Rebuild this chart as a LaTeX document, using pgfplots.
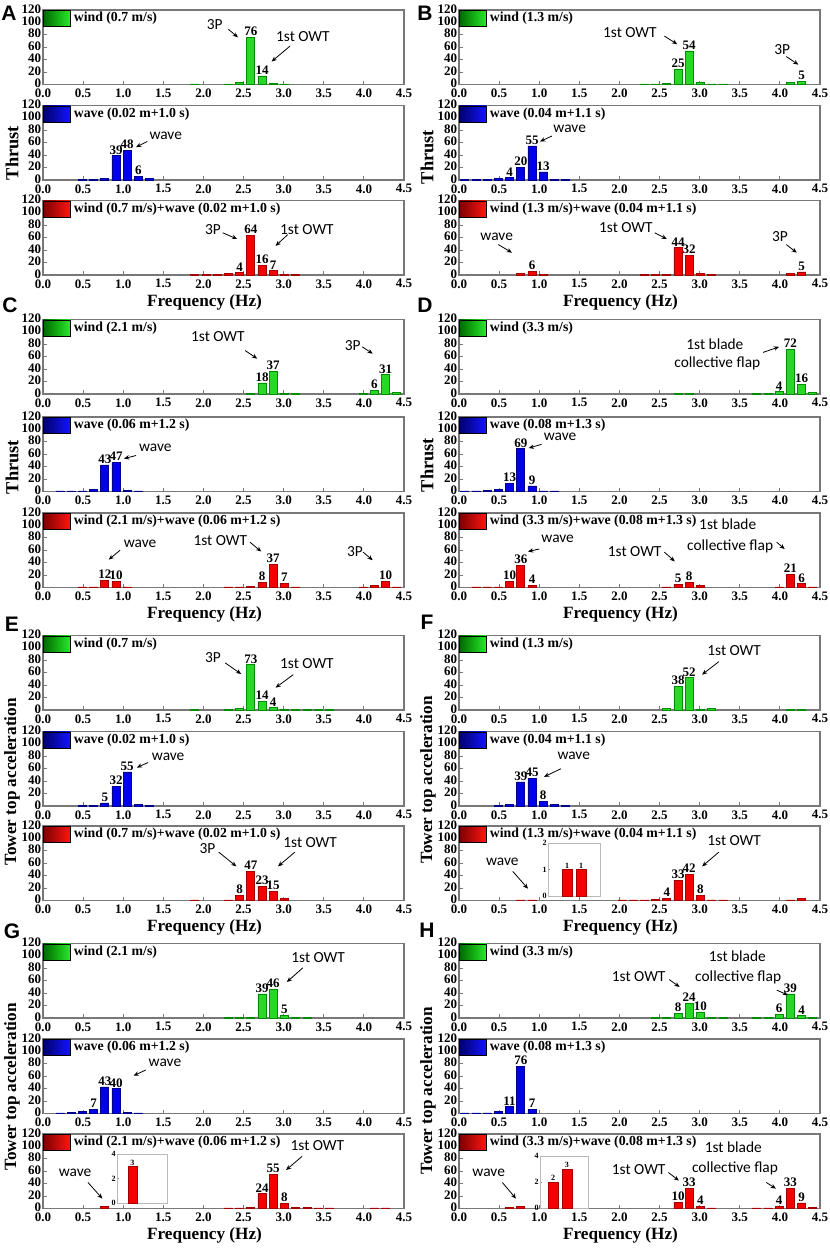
\documentclass[border=0pt]{standalone}
\usepackage{fontspec}
\setmainfont{Liberation Serif}
\newfontfamily\sansbf{Liberation Sans}
\newfontfamily\carlito{Carlito}
\usepackage{pgfplots}
\pgfplotsset{compat=1.18}
\usetikzlibrary{arrows.meta}
\definecolor{gF}{RGB}{40,215,40}
\definecolor{gE}{RGB}{0,140,0}
\definecolor{gD}{RGB}{0,105,0}
\definecolor{gL}{RGB}{40,235,40}
\definecolor{bF}{RGB}{0,0,235}
\definecolor{bE}{RGB}{0,0,140}
\definecolor{bD}{RGB}{0,0,110}
\definecolor{bL}{RGB}{20,20,255}
\definecolor{rF}{RGB}{245,0,0}
\definecolor{rE}{RGB}{165,0,0}
\definecolor{rD}{RGB}{125,0,0}
\definecolor{rL}{RGB}{255,20,20}
\definecolor{frm}{RGB}{120,120,120}
\newcommand\tickfont{\fontsize{6.5}{7}\selectfont\bfseries}
\newcommand\legfont{\fontsize{6.9}{7.5}\selectfont\bfseries}
\newcommand\annfont{\carlito\fontsize{7.7}{8}\selectfont}
\newcommand\labfont{\fontsize{8.6}{9}\selectfont\bfseries}
\newcommand\thrfont{\fontsize{9.2}{10}\selectfont\bfseries}
\newcommand\letfont{\sansbf\fontsize{10.5}{11}\selectfont\bfseries}
\newcommand\insfont{\fontsize{4}{4.5}\selectfont\bfseries}
\pgfplotsset{
  base/.style={
    scale only axis, width=180.5pt, height=37.25pt, anchor=south west,
    xmin=0, xmax=4.5, ymin=0, ymax=120,
    xtick={0,0.5,1,1.5,2,2.5,3,3.5,4,4.5}, ytick={0,20,40,60,80,100,120},
    tick pos=left, tick align=inside, major tick length=2pt,
    axis line style={draw=frm, line width=0.6pt},
    every tick/.style={frm, line width=0.4pt},
    /pgf/number format/assume math mode=true,
    ticklabel style={font=\tickfont},
    xticklabel style={inner sep=0.3pt, yshift=-1.7pt, /pgf/number format/.cd, fixed, fixed zerofill, precision=1},
    yticklabel style={inner sep=0.8pt, yshift=0.6pt},
    clip=false,
    every node near coord/.append style={font=\tickfont, inner sep=0.6pt, text=black},
    legend style={at={(0,1)}, anchor=north west, draw=none, fill=none,
      inner sep=0pt, outer sep=0pt, font=\legfont, nodes={inner sep=0.5pt}, column sep=1pt},
    legend cell align=left,
  },
  flab/.style={xlabel={Frequency (Hz)}, xlabel style={font=\labfont, xshift=-9.5pt, yshift=-1.5pt, inner sep=1pt}},
  gsw/.style={legend image code/.code={\shade[left color=gD,right color=gL] (0pt,-4pt) rectangle (13.5pt,4pt);}},
  bsw/.style={legend image code/.code={\shade[left color=bD,right color=bL] (0pt,-4pt) rectangle (13.5pt,4pt);}},
  rsw/.style={legend image code/.code={\shade[left color=rD,right color=rL] (0pt,-4pt) rectangle (13.5pt,4pt);}},
  gbar/.style={ybar, bar width=0.1, bar shift=0pt, fill=gF, draw=gE, line width=0.3pt, forget plot},
  bbar/.style={ybar, bar width=0.1, bar shift=0pt, fill=bF, draw=bE, line width=0.3pt, forget plot},
  rbar/.style={ybar, bar width=0.1, bar shift=0pt, fill=rF, draw=rE, line width=0.3pt, forget plot},
  lab/.style={nodes near coords, nodes near coords align={vertical}},
  inset/.style={scale only axis, anchor=south west, xtick=\empty, ymin=0,
    axis line style={draw=gray!55, line width=0.5pt}, tick pos=left, tick align=inside,
    major tick length=1pt, every tick/.style={gray}, ticklabel style={font=\insfont},
    yticklabel style={inner sep=0.5pt}, axis background/.style={fill=white}, clip=false,
    /pgf/number format/assume math mode=true,
    every node near coord/.append style={font=\insfont, inner sep=0.4pt, text=black}},
}
\tikzset{ann/.style={font=\annfont, inner sep=0pt},
  arr/.style={-{Stealth[length=2.6pt,width=2.2pt]}, line width=0.4pt}}
\begin{document}
\begin{tikzpicture}
\path[use as bounding box] (0pt,0pt) rectangle (415pt,-625pt);
% ================= A =================
\begin{axis}[base, at={(21.5pt,-42.25pt)}]
\addlegendimage{gsw}\addlegendentry{wind (0.7 m/s)}
\addplot[gbar] coordinates {(1.89,1)(2.31,1)(2.45,3)(2.87,2)(3.01,1)};
\addplot[gbar,lab] coordinates {(2.59,76)(2.73,14)};
\node[ann] at (axis cs:2.14,97){3P};
\draw[arr] (axis cs:2.31,89)--(axis cs:2.43,76);
\node[ann] at (axis cs:3.24,78){1st OWT};
\draw[arr] (axis cs:3.08,62)--(axis cs:2.85,37);
\end{axis}
\begin{axis}[base, at={(21.5pt,-90pt)}]
\addlegendimage{bsw}\addlegendentry{wave (0.02 m+1.0 s)}
\addplot[bbar] coordinates {(0.49,1)(0.63,1)(0.77,2)(1.33,3)};
\addplot[bbar,lab] coordinates {(0.91,39)(1.05,48)(1.19,6)};
\node[ann] at (axis cs:1.53,71){wave};
\draw[arr] (axis cs:1.30,62)--(axis cs:1.16,53);
\end{axis}
\begin{axis}[base, flab, at={(21.5pt,-137.5pt)}]
\addlegendimage{rsw}\addlegendentry{wind (0.7 m/s)+wave (0.02 m+1.0 s)}
\addplot[rbar] coordinates {(1.89,1)(2.03,1)(2.17,1)(2.31,2)(3.01,1)(3.15,1)};
\addplot[rbar,lab] coordinates {(2.45,4)(2.59,64)(2.73,16)(2.87,7)};
\node[ann] at (axis cs:2.12,73){3P};
\draw[arr] (axis cs:2.24,68)--(axis cs:2.42,58);
\node[ann] at (axis cs:3.29,73){1st OWT};
\draw[arr] (axis cs:3.05,65)--(axis cs:2.90,47);
\end{axis}
% ================= B =================
\begin{axis}[base, at={(229.5pt,-42.25pt)}]
\addlegendimage{gsw}\addlegendentry{wind (1.3 m/s)}
\addplot[gbar] coordinates {(2.31,1)(2.45,1)(2.59,2)(3.01,3)(3.15,1)(3.29,1)(4.13,3)};
\addplot[gbar,lab] coordinates {(2.73,25)(2.87,54)(4.27,5)};
\node[ann] at (axis cs:2.13,84){1st OWT};
\draw[arr] (axis cs:2.56,78)--(axis cs:2.72,65);
\node[ann] at (axis cs:4.03,57){3P};
\draw[arr] (axis cs:4.08,45)--(axis cs:4.23,32);
\end{axis}
\begin{axis}[base, at={(229.5pt,-90pt)}]
\addlegendimage{bsw}\addlegendentry{wave (0.04 m+1.1 s)}
\addplot[bbar] coordinates {(0.07,1)(0.21,1)(0.35,1)(0.49,2)(1.19,1)(1.33,1)};
\addplot[bbar,lab] coordinates {(0.63,4)(0.77,20)(0.91,55)(1.05,13)};
\node[ann] at (axis cs:1.38,83){wave};
\draw[arr] (axis cs:1.16,71)--(axis cs:1.01,62);
\end{axis}
\begin{axis}[base, flab, at={(229.5pt,-137.5pt)}]
\addlegendimage{rsw}\addlegendentry{wind (1.3 m/s)+wave (0.04 m+1.1 s)}
\addplot[rbar] coordinates {(0.77,3)(1.05,1)(2.31,1)(2.45,1)(2.59,1)(3.01,2)(3.15,1)(4.13,2)};
\addplot[rbar,lab] coordinates {(0.91,6)(2.73,44)(2.87,32)(4.27,5)};
\node[ann] at (axis cs:0.47,62){wave};
\draw[arr] (axis cs:0.49,49)--(axis cs:0.66,36);
\node[ann] at (axis cs:2.08,76){1st OWT};
\draw[arr] (axis cs:2.44,68)--(axis cs:2.59,58);
\node[ann] at (axis cs:4.0,62){3P};
\draw[arr] (axis cs:4.08,49)--(axis cs:4.21,36);
\end{axis}
% ================= C =================
\begin{axis}[base, at={(21.5pt,-197pt)}]
\addlegendimage{gsw}\addlegendentry{wind (2.1 m/s)}
\addplot[gbar] coordinates {(2.59,1)(3.01,1)(3.15,1)(3.99,1)(4.41,2)};
\addplot[gbar,lab] coordinates {(2.73,18)(2.87,37)(4.13,6)(4.27,31)};
\node[ann] at (axis cs:2.18,92){1st OWT};
\draw[arr] (axis cs:2.52,70)--(axis cs:2.67,57);
\node[ann] at (axis cs:3.86,78){3P};
\draw[arr] (axis cs:3.98,76)--(axis cs:4.11,65);
\end{axis}
\begin{axis}[base, at={(21.5pt,-245.75pt)}]
\addlegendimage{bsw}\addlegendentry{wave (0.06 m+1.2 s)}
\addplot[bbar] coordinates {(0.21,1)(0.35,1)(0.49,1)(0.63,3)(1.05,2)(1.19,1)};
\addplot[bbar,lab] coordinates {(0.77,43)(0.91,47)};
\node[ann] at (axis cs:1.40,71){wave};
\draw[arr] (axis cs:1.16,58)--(axis cs:1.01,53);
\end{axis}
\begin{axis}[base, flab, at={(21.5pt,-293.75pt)}]
\addlegendimage{rsw}\addlegendentry{wind (2.1 m/s)+wave (0.06 m+1.2 s)}
\addplot[rbar] coordinates {(0.49,1)(0.63,1)(1.05,1)(2.31,1)(2.45,1)(2.59,2)(3.15,1)(3.99,1)(4.13,3)(4.41,1)};
\addplot[rbar,lab] coordinates {(0.77,12)(0.91,10)(2.73,8)(2.87,37)(3.01,7)(4.27,10)};
\node[ann] at (axis cs:1.21,70){wave};
\draw[arr] (axis cs:0.96,60)--(axis cs:0.82,45);
\node[ann] at (axis cs:2.21,76){1st OWT};
\draw[arr] (axis cs:2.58,73)--(axis cs:2.72,58);
\node[ann] at (axis cs:3.89,58){3P};
\draw[arr] (axis cs:3.99,57)--(axis cs:4.11,44);
\end{axis}
% ================= D =================
\begin{axis}[base, at={(229.5pt,-197pt)}]
\addlegendimage{gsw}\addlegendentry{wind (3.3 m/s)}
\addplot[gbar] coordinates {(2.73,1)(2.87,1)(3.71,1)(3.85,1)(4.41,2)};
\addplot[gbar,lab] coordinates {(3.99,4)(4.13,72)(4.27,16)};
\node[ann] at (axis cs:3.19,81){1st blade};
\node[ann] at (axis cs:3.22,49){collective flap};
\draw[arr] (axis cs:3.79,67)--(axis cs:3.99,76);
\end{axis}
\begin{axis}[base, at={(229.5pt,-245.75pt)}]
\addlegendimage{bsw}\addlegendentry{wave (0.08 m+1.3 s)}
\addplot[bbar] coordinates {(0.07,1)(0.21,1)(0.35,2)(0.49,3)(1.05,1)(1.19,1)};
\addplot[bbar,lab] coordinates {(0.63,13)(0.77,69)(0.91,9)};
\node[ann] at (axis cs:1.26,88){wave};
\draw[arr] (axis cs:1.03,76)--(axis cs:0.87,70);
\end{axis}
\begin{axis}[base, flab, at={(229.5pt,-293.75pt)}]
\addlegendimage{rsw}\addlegendentry{wind (3.3 m/s)+wave (0.08 m+1.3 s)}
\addplot[rbar] coordinates {(0.21,1)(0.35,1)(0.49,1)(2.59,1)(3.01,3)(3.99,1)(4.41,1)};
\addplot[rbar,lab] coordinates {(0.63,10)(0.77,36)(0.91,4)(2.73,5)(2.87,8)(4.13,21)(4.27,6)};
\node[ann] at (axis cs:1.23,78){wave};
\draw[arr] (axis cs:1.0,62)--(axis cs:0.86,58);
\node[ann] at (axis cs:2.19,58){1st OWT};
\draw[arr] (axis cs:2.56,57)--(axis cs:2.69,42);
\node[ann] at (axis cs:3.35,102){1st blade};
\node[ann] at (axis cs:3.38,67){collective flap};
\draw[arr] (axis cs:3.96,73)--(axis cs:4.06,62);
\end{axis}
% ================= E =================
\begin{axis}[base, at={(21.5pt,-355pt)}]
\addlegendimage{gsw}\addlegendentry{wind (0.7 m/s)}
\addplot[gbar] coordinates {(1.89,1)(2.31,1)(2.45,2)(3.01,1)(3.15,1)(3.29,1)(3.43,1)(3.57,1)};
\addplot[gbar,lab] coordinates {(2.59,73)(2.73,14)(2.87,4)};
\node[ann] at (axis cs:2.12,84){3P};
\draw[arr] (axis cs:2.27,76)--(axis cs:2.47,58);
\node[ann] at (axis cs:3.29,75){1st OWT};
\draw[arr] (axis cs:3.12,57)--(axis cs:2.90,36);
\end{axis}
\begin{axis}[base, at={(21.5pt,-403pt)}]
\addlegendimage{bsw}\addlegendentry{wave (0.02 m+1.0 s)}
\addplot[bbar] coordinates {(0.49,1)(0.63,1)(1.19,2)(1.33,1)};
\addplot[bbar,lab] coordinates {(0.77,5)(0.91,32)(1.05,55)};
\node[ann] at (axis cs:1.56,80){wave};
\draw[arr] (axis cs:1.31,70)--(axis cs:1.17,62);
\end{axis}
\begin{axis}[base, flab, at={(21.5pt,-450.25pt)}]
\addlegendimage{rsw}\addlegendentry{wind (0.7 m/s)+wave (0.02 m+1.0 s)}
\addplot[rbar] coordinates {(1.89,1)(2.31,1)(3.01,3)};
\addplot[rbar,lab] coordinates {(2.45,8)(2.59,47)(2.73,23)(2.87,15)};
\node[ann] at (axis cs:2.05,83){3P};
\draw[arr] (axis cs:2.19,78)--(axis cs:2.41,55);
\node[ann] at (axis cs:3.33,94){1st OWT};
\draw[arr] (axis cs:3.14,78)--(axis cs:2.93,55);
\end{axis}
% ================= F =================
\begin{axis}[base, at={(229.5pt,-355pt)}]
\addlegendimage{gsw}\addlegendentry{wind (1.3 m/s)}
\addplot[gbar] coordinates {(2.59,2)(3.01,1)(3.15,3)(4.13,1)(4.27,1)};
\addplot[gbar,lab] coordinates {(2.73,38)(2.87,52)};
\node[ann] at (axis cs:3.43,96){1st OWT};
\draw[arr] (axis cs:3.24,78)--(axis cs:3.03,57);
\end{axis}
\begin{axis}[base, at={(229.5pt,-403pt)}]
\addlegendimage{bsw}\addlegendentry{wave (0.04 m+1.1 s)}
\addplot[bbar] coordinates {(0.49,1)(0.63,2)(1.19,2)(1.33,1)};
\addplot[bbar,lab] coordinates {(0.77,39)(0.91,45)(1.05,8)};
\node[ann] at (axis cs:1.43,81){wave};
\draw[arr] (axis cs:1.27,60)--(axis cs:1.06,47);
\end{axis}
\begin{axis}[base, flab, at={(229.5pt,-450.25pt)}]
\addlegendimage{rsw}\addlegendentry{wind (1.3 m/s)+wave (0.04 m+1.1 s)}
\addplot[rbar] coordinates {(0.77,1)(0.91,1)(2.03,1)(2.17,1)(2.31,1)(2.45,2)(3.15,1)(3.29,1)(4.13,1)(4.27,3)};
\addplot[rbar,lab] coordinates {(2.59,4)(2.73,33)(2.87,42)(3.01,8)};
\node[ann] at (axis cs:0.54,62){wave};
\draw[arr] (axis cs:0.67,47)--(axis cs:0.86,19);
\node[ann] at (axis cs:3.43,96){1st OWT};
\draw[arr] (axis cs:3.24,78)--(axis cs:3.03,55);
\end{axis}
\begin{axis}[inset, at={(274pt,-448pt)}, width=26pt, height=26.5pt, xmin=0.58, xmax=1.10, ymax=2, ytick={0,1,2}]
\addplot[rbar,lab] coordinates {(0.77,1)(0.91,1)};
\end{axis}
% ================= G =================
\begin{axis}[base, at={(21.5pt,-509pt)}]
\addlegendimage{gsw}\addlegendentry{wind (2.1 m/s)}
\addplot[gbar] coordinates {(2.31,1)(2.45,1)(2.59,1)(3.15,1)(3.29,1)};
\addplot[gbar,lab] coordinates {(2.73,39)(2.87,46)(3.01,5)};
\node[ann] at (axis cs:3.43,97){1st OWT};
\draw[arr] (axis cs:3.24,81)--(axis cs:3.04,58);
\end{axis}
\begin{axis}[base, at={(21.5pt,-556.75pt)}]
\addlegendimage{bsw}\addlegendentry{wave (0.06 m+1.2 s)}
\addplot[bbar] coordinates {(0.21,1)(0.35,2)(0.49,3)(1.05,2)(1.19,1)};
\addplot[bbar,lab] coordinates {(0.63,7)(0.77,43)(0.91,40)};
\node[ann] at (axis cs:1.52,82){wave};
\draw[arr] (axis cs:1.28,70)--(axis cs:1.13,61);
\end{axis}
\begin{axis}[base, flab, at={(21.5pt,-604.25pt)}]
\addlegendimage{rsw}\addlegendentry{wind (2.1 m/s)+wave (0.06 m+1.2 s)}
\addplot[rbar] coordinates {(0.77,3)(2.31,1)(2.45,1)(2.59,2)(3.15,2)(3.29,2)(3.43,1)(3.57,1)(4.13,1)(4.27,1)};
\addplot[rbar,lab] coordinates {(2.73,24)(2.87,55)(3.01,8)};
\node[ann] at (axis cs:0.40,58){wave};
\draw[arr] (axis cs:0.56,42)--(axis cs:0.74,16);
\node[ann] at (axis cs:3.42,102){1st OWT};
\draw[arr] (axis cs:3.23,84)--(axis cs:3.03,62);
\end{axis}
\begin{axis}[inset, at={(58.5pt,-601.5pt)}, width=25pt, height=24.5pt, xmin=0.60, xmax=1.15, ymax=4, ytick={0,2,4}]
\addplot[rbar,lab] coordinates {(0.77,3)};
\end{axis}
% ================= H =================
\begin{axis}[base, at={(229.5pt,-509pt)}]
\addlegendimage{gsw}\addlegendentry{wind (3.3 m/s)}
\addplot[gbar] coordinates {(2.45,1)(2.59,1)(3.15,1)(3.29,1)(3.71,1)(3.85,1)(4.41,1)};
\addplot[gbar,lab] coordinates {(2.73,8)(2.87,24)(3.01,10)(3.99,6)(4.13,39)(4.27,4)};
\node[ann] at (axis cs:3.47,99){1st blade};
\node[ann] at (axis cs:3.48,65){collective flap};
\node[ann] at (axis cs:2.24,66){1st OWT};
\draw[arr] (axis cs:2.62,62)--(axis cs:2.75,50);
\draw[arr] (axis cs:3.96,45)--(axis cs:4.10,37);
\end{axis}
\begin{axis}[base, at={(229.5pt,-556.75pt)}]
\addlegendimage{bsw}\addlegendentry{wave (0.08 m+1.3 s)}
\addplot[bbar] coordinates {(0.07,1)(0.21,1)(0.35,1)(0.49,3)};
\addplot[bbar,lab] coordinates {(0.63,11)(0.77,76)(0.91,7)};
\end{axis}
\begin{axis}[base, flab, at={(229.5pt,-604.25pt)}]
\addlegendimage{rsw}\addlegendentry{wind (3.3 m/s)+wave (0.08 m+1.3 s)}
\addplot[rbar] coordinates {(0.63,2)(0.77,3)(3.15,1)(3.71,1)(3.85,1)(4.41,2)};
\addplot[rbar,lab] coordinates {(2.73,10)(2.87,33)(3.01,4)(3.99,4)(4.13,33)(4.27,9)};
\node[ann] at (axis cs:0.37,58){wave};
\draw[arr] (axis cs:0.54,42)--(axis cs:0.71,16);
\node[ann] at (axis cs:2.24,63){1st OWT};
\draw[arr] (axis cs:2.61,58)--(axis cs:2.74,45);
\node[ann] at (axis cs:3.42,99){1st blade};
\node[ann] at (axis cs:3.44,65){collective flap};
\draw[arr] (axis cs:3.83,42)--(axis cs:3.95,32);
\end{axis}
\begin{axis}[inset, at={(270pt,-604pt)}, width=24.5pt, height=26pt, xmin=0.495, xmax=0.995, ymax=4, ytick={0,2,4}]
\addplot[rbar,lab] coordinates {(0.63,2)(0.77,3)};
\end{axis}
% ================= labels =================
\node[rotate=90, font=\thrfont] at (6pt,-76.5pt) {Thrust};
\node[rotate=90, font=\thrfont] at (213.5pt,-78.5pt) {Thrust};
\node[rotate=90, font=\thrfont] at (6pt,-233.5pt) {Thrust};
\node[rotate=90, font=\thrfont] at (213.5pt,-232.5pt) {Thrust};
\node[rotate=90, font=\labfont] at (6pt,-391pt) {Tower top acceleration};
\node[rotate=90, font=\labfont] at (214pt,-390pt) {Tower top acceleration};
\node[rotate=90, font=\labfont] at (6pt,-543.5pt) {Tower top acceleration};
\node[rotate=90, font=\labfont] at (214pt,-545.5pt) {Tower top acceleration};
\node[font=\letfont] at (4.5pt,-6.5pt) {A};
\node[font=\letfont] at (212.5pt,-6.5pt) {B};
\node[font=\letfont] at (5pt,-152.5pt) {C};
\node[font=\letfont] at (212.5pt,-152.5pt) {D};
\node[font=\letfont] at (6pt,-312pt) {E};
\node[font=\letfont] at (213.5pt,-311pt) {F};
\node[font=\letfont] at (6pt,-465.5pt) {G};
\node[font=\letfont] at (213.5pt,-465pt) {H};
\end{tikzpicture}
\end{document}
